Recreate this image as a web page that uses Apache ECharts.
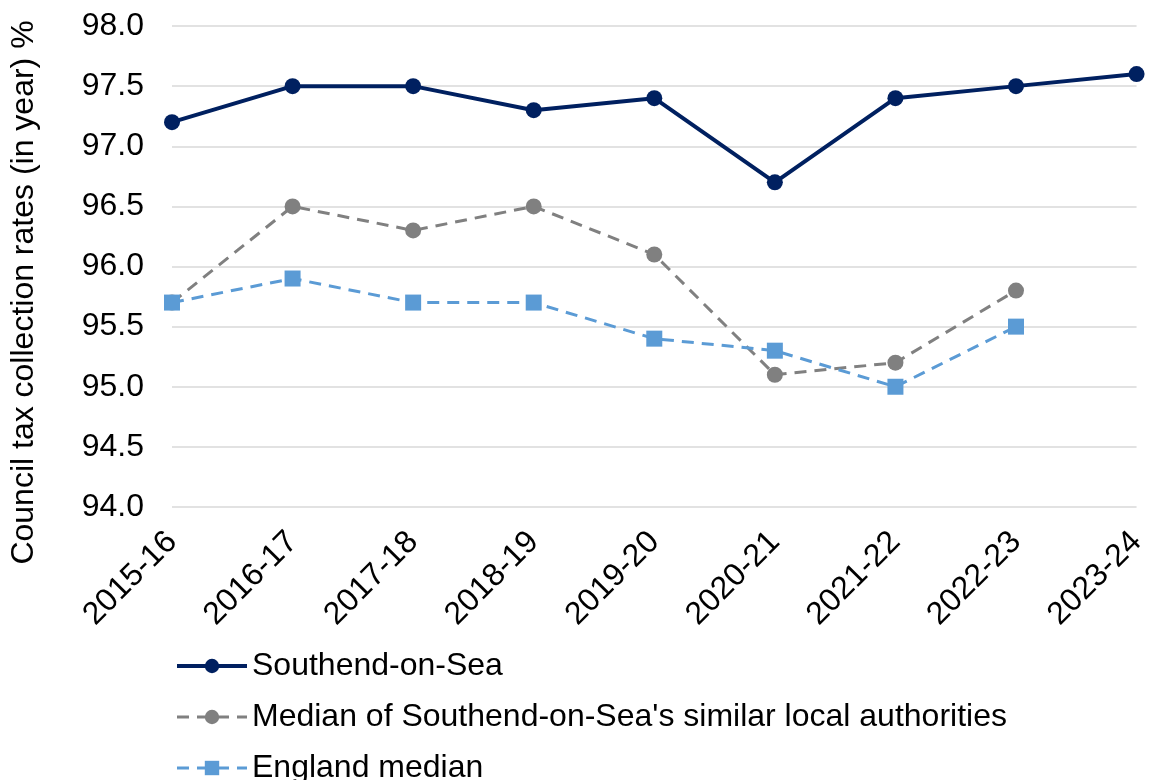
<!DOCTYPE html>
<html>
<head>
<meta charset="utf-8">
<script src="https://cdn.jsdelivr.net/npm/echarts@6/dist/echarts.min.js"></script>
<style>
  html, body { margin: 0; padding: 0; background: #fff; }
  #chart { width: 1150px; height: 780px; }
</style>
</head>
<body>
<div id="chart"></div>
<script>
// years along the x axis
const years = ["2015-16", "2016-17", "2017-18", "2018-19", "2019-20", "2020-21", "2021-22", "2022-23", "2023-24"];

// collection rates, %
const southend = [97.2, 97.5, 97.5, 97.3, 97.4, 96.7, 97.4, 97.5, 97.6];
const similarMedian = [95.7, 96.5, 96.3, 96.5, 96.1, 95.1, 95.2, 95.8, null];
const englandMedian = [95.7, 95.9, 95.7, 95.7, 95.4, 95.3, 95.0, 95.5, null];

const seriesNames = [
  "Southend-on-Sea",
  "Median of Southend-on-Sea's similar local authorities",
  "England median"
];

const font = "Liberation Sans, Arial, sans-serif";
const fs = 32;

var myChart = echarts.init(document.getElementById("chart"));

var option = {
  animation: false,
  grid: { left: 171, right: 7, top: 26, bottom: 273, containLabel: false },
  legend: {
    orient: "vertical",
    left: 175,
    top: 650,
    padding: 0,
    height: 250,
    itemWidth: 70,
    itemHeight: 18,
    itemGap: 19,
    textStyle: { fontFamily: font, fontSize: fs, color: "#000" },
    data: [
      { name: seriesNames[0], lineStyle: { width: 4 } },
      { name: seriesNames[1], lineStyle: { width: 3 } },
      { name: seriesNames[2], lineStyle: { width: 3 } }
    ]
  },
  xAxis: {
    type: "category",
    data: years,
    boundaryGap: false,
    axisLine: { show: false },
    axisTick: { show: false },
    axisLabel: {
      rotate: 45,
      margin: 30,
      fontFamily: font,
      fontSize: fs,
      color: "#000"
    }
  },
  yAxis: {
    type: "value",
    min: 94,
    max: 98,
    interval: 0.5,
    name: "Council tax collection rates (in year) %",
    nameLocation: "middle",
    nameGap: 132,
    nameTextStyle: { fontFamily: font, fontSize: fs, color: "#000", padding: [0, 52, 0, 0] },
    axisLine: { show: false },
    axisTick: { show: false },
    axisLabel: {
      margin: 28,
      fontFamily: font,
      fontSize: fs,
      color: "#000",
      formatter: function (v) { return v.toFixed(1); }
    },
    splitLine: { lineStyle: { color: "#d9d9d9", width: 1.5 } }
  },
  series: [
    {
      name: seriesNames[0],
      type: "line",
      data: southend,
      symbol: "circle",
      symbolSize: 16,
      itemStyle: { color: "#002060" },
      lineStyle: { color: "#002060", width: 4 },
      z: 4
    },
    {
      name: seriesNames[1],
      type: "line",
      data: similarMedian,
      symbol: "circle",
      symbolSize: 16,
      itemStyle: { color: "#808080" },
      lineStyle: { color: "#808080", width: 3, type: [12, 8] },
      z: 2
    },
    {
      name: seriesNames[2],
      type: "line",
      data: englandMedian,
      symbol: "rect",
      symbolSize: 16,
      itemStyle: { color: "#5b9bd5" },
      lineStyle: { color: "#5b9bd5", width: 3, type: [12, 8] },
      z: 3
    }
  ]
};

option && myChart.setOption(option);
</script>
</body>
</html>
